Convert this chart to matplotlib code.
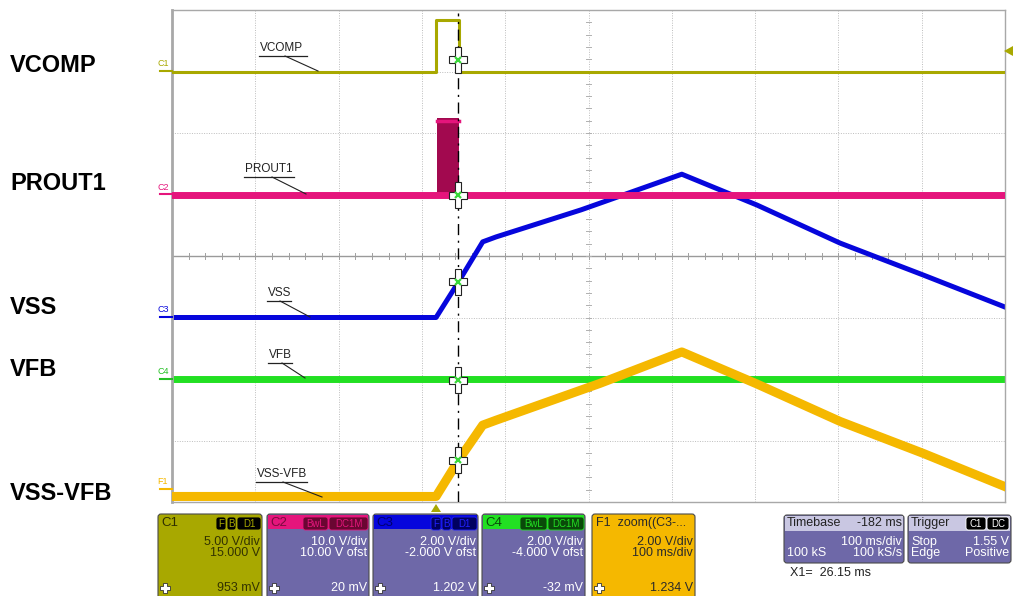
import matplotlib
matplotlib.use('Agg')
import matplotlib.pyplot as plt
from matplotlib.patches import Polygon, FancyBboxPatch, Rectangle

plt.rcParams['font.family'] = ['Liberation Sans', 'DejaVu Sans']

# time in ms (trigger at 0, 100 ms/div), y in screen divisions (0..8)
t_left, t_right = -317, 683
cursor_t = 26.15

vcomp_t = [-317, 0, 0, 27, 27, 683]
vcomp_y = [7.0, 7.0, 7.83, 7.83, 7.0, 7.0]

prout_t = [-317, 683]
prout_y = [5.0, 5.0]
burst_t = [1, 27]
burst_top = 6.24

vss_t = [-317, 0, 27, 56, 72, 174, 197, 295, 385, 485, 585, 683]
vss_y = [3.0, 3.0, 3.58, 4.23, 4.31, 4.75, 4.86, 5.33, 4.83, 4.21, 3.69, 3.17]

vfb_t = [-317, 683]
vfb_y = [2.0, 2.0]

diff_t = [-317, 0, 27, 56, 72, 174, 197, 295, 385, 485, 585, 683]
diff_y = [0.09, 0.09, 0.68, 1.25, 1.33, 1.82, 1.93, 2.44, 1.92, 1.31, 0.79, 0.25]

cursor_marks = [7.19, 4.99, 3.58, 1.98, 0.68]

c_olive = '#a8a800'
c_pink = '#e5157c'
c_blue = '#0606dc'
c_green = '#22e022'
c_amber = '#f5b800'
c_body = '#6e68a8'

fig = plt.figure(figsize=(10.14, 5.96), dpi=100)
ax = fig.add_axes([172 / 1014, (596 - 502) / 596, 833 / 1014, 492 / 596])
ax.set_xlim(t_left, t_right)
ax.set_ylim(0, 8)
ax.set_xticks([])
ax.set_yticks([])
for s in ax.spines.values():
    s.set_color('#a8a8a8')
    s.set_linewidth(1.0)
ax.spines['left'].set_linewidth(2.0)

# grid
for k in range(1, 10):
    ax.axvline(t_left + k * 100, color='#bdbdbd', lw=0.7, ls=(0, (1, 1.5)), zorder=0)
for k in range(1, 8):
    if k == 4:
        ax.axhline(k, color='#9a9a9a', lw=1.0, zorder=0)
    else:
        ax.axhline(k, color='#bdbdbd', lw=0.7, ls=(0, (1, 1.5)), zorder=0)
for k in range(50):
    x = t_left + k * 20
    ax.plot([x, x], [3.95, 4.05], color='#a0a0a0', lw=0.7, zorder=0)
for k in range(40):
    y = k * 0.2
    ax.plot([t_left + 497, t_left + 503], [y, y], color='#b0b0b0', lw=0.7, zorder=0)

# traces
ax.plot(vss_t, vss_y, color=c_blue, lw=3.6, zorder=2, solid_joinstyle='round')
ax.fill_between(burst_t, prout_y[0], burst_top, color='#a2094f', lw=0, zorder=3)
ax.plot(burst_t, [burst_top - 0.04] * 2, color=c_pink, lw=2.5, zorder=3)
ax.plot(prout_t, prout_y, color=c_pink, lw=5, zorder=3)
ax.plot(vfb_t, vfb_y, color=c_green, lw=5, zorder=2)
ax.plot(diff_t, diff_y, color=c_amber, lw=6.5, zorder=4, solid_joinstyle='round')
ax.plot(vcomp_t, vcomp_y, color=c_olive, lw=2.2, zorder=5)

# cursor
ax.plot([cursor_t, cursor_t], [0, 7.95], color='black', lw=1.0, ls=(0, (8, 4, 1.5, 4)), zorder=6)
dx_v, dy_v = 3.2, 0.21
dx_h, dy_h = 10.8, 0.057
for y in cursor_marks:
    c = cursor_t
    pts = [(c - dx_v, y + dy_v), (c + dx_v, y + dy_v), (c + dx_v, y + dy_h), (c + dx_h, y + dy_h),
           (c + dx_h, y - dy_h), (c + dx_v, y - dy_h), (c + dx_v, y - dy_v), (c - dx_v, y - dy_v),
           (c - dx_v, y - dy_h), (c - dx_h, y - dy_h), (c - dx_h, y + dy_h), (c - dx_v, y + dy_h)]
    ax.add_patch(Polygon(pts, closed=True, fc='white', ec='#222222', lw=0.8, zorder=7))
    ax.plot(c, y, marker='x', ms=5, mew=1.6, color='#3ad83a', zorder=8)

# overlay in pixel coordinates
ov = fig.add_axes([0, 0, 1, 1])
ov.set_xlim(0, 1014)
ov.set_ylim(596, 0)
ov.axis('off')

big = [('VCOMP', 65), ('PROUT1', 183), ('VSS', 307), ('VFB', 370), ('VSS-VFB', 494)]
for txt, y in big:
    ov.text(10, y, txt, fontsize=17, fontweight='bold', va='center', ha='left', color='black')

# channel markers at left edge
marks = [('C1', 71, c_olive), ('C2', 194, c_pink), ('C3', 317, c_blue), ('C4', 379, '#22c022'), ('F1', 489, c_amber)]
for txt, y, col in marks:
    ov.text(157, y - 7, txt, fontsize=6.5, color=col, va='center', ha='left')
    ov.plot([160, 172], [y, y], color=col, lw=1.5)

# trace labels with leader lines
labels = [('VCOMP', 260, 48, 285, (318, 71)),
          ('PROUT1', 245, 169, 272, (306, 194)),
          ('VSS', 268, 293, 280, (310, 317)),
          ('VFB', 269, 355, 282, (305, 378)),
          ('VSS-VFB', 257, 474, 283, (322, 497))]
widths = {'VCOMP': 47, 'PROUT1': 49, 'VSS': 23, 'VFB': 23, 'VSS-VFB': 50}
for txt, x, y, lx, end in labels:
    ov.text(x, y, txt, fontsize=8.5, color='#222222', va='center', ha='left')
    ov.plot([x - 1, x + widths[txt]], [y + 8, y + 8], color='#222222', lw=0.9)
    ov.plot([lx, end[0]], [y + 8, end[1]], color='#222222', lw=0.8)

# trigger markers
ov.add_patch(Polygon([(1004, 51), (1013, 46), (1013, 56)], closed=True, fc=c_olive, ec='none'))
ov.add_patch(Polygon([(431, 512), (436, 504), (441, 512)], closed=True, fc=c_olive, ec='none'))


def panel(x0, x1, y0, y1, body, head=None, head_h=14):
    ov.add_patch(FancyBboxPatch((x0, y0), x1 - x0, y1 - y0,
                                boxstyle='round,pad=0,rounding_size=3',
                                fc=body, ec='#4a4a4a', lw=0.8))
    if head is not None:
        ov.add_patch(Rectangle((x0 + 1, y0 + 1), x1 - x0 - 2, head_h, fc=head, ec='none'))


def badge(x0, x1, txt, fc, tc, y0=517, y1=530):
    ov.add_patch(FancyBboxPatch((x0, y0), x1 - x0, y1 - y0,
                                boxstyle='round,pad=0,rounding_size=2.5',
                                fc=fc, ec=tc, lw=0.6))
    ov.text((x0 + x1) / 2, (y0 + y1) / 2 + 0.5, txt, fontsize=7, color=tc,
            ha='center', va='center')


def icon(x, y):
    ov.plot(x, y, marker='P', ms=7, mfc='white', mec='#333333', mew=0.6)


chan = [
    ('C1', 158, 262, c_olive, None, '#2e2e00', '#333300',
     ['5.00 V/div', '15.000 V'], '953 mV', [('F', 216, 226), ('B', 227, 236), ('D1', 237, 261)], 'black', c_olive),
    ('C2', 267, 369, c_body, c_pink, '#7a0a3e', 'white',
     ['10.0 V/div', '10.00 V ofst'], '20 mV', [('BwL', 303, 328), ('DC1M', 329, 368)], '#6a0632', c_pink),
    ('C3', 373, 478, c_body, c_blue, '#00006a', 'white',
     ['2.00 V/div', '-2.000 V ofst'], '1.202 V', [('F', 431, 441), ('B', 442, 451), ('D1', 452, 477)], '#000060', '#2020ff'),
    ('C4', 482, 585, c_body, c_green, '#0a4a0a', 'white',
     ['2.00 V/div', '-4.000 V ofst'], '-32 mV', [('BwL', 520, 547), ('DC1M', 548, 584)], '#0a4a0a', c_green),
]
for name, x0, x1, body, head, ncol, tcol, rows, val, badges, bfc, btc in chan:
    panel(x0, x1, 514, 600, body, head)
    ov.text(x0 + 3, 523, name, fontsize=9.5, color=ncol, va='center', ha='left')
    for b, bx0, bx1 in badges:
        badge(bx0, bx1, b, bfc, btc)
    ov.text(x1 - 2, 542, rows[0], fontsize=9, color=tcol, ha='right', va='center')
    ov.text(x1 - 2, 553, rows[1], fontsize=9, color=tcol, ha='right', va='center')
    ov.text(x1 - 2, 588, val, fontsize=9, color=tcol, ha='right', va='center')
    icon(x0 + 7, 588)

# math panel
panel(592, 695, 514, 600, c_amber)
ov.text(596, 523, 'F1  zoom((C3-...', fontsize=9, color='#2a2a2a', va='center', ha='left')
ov.text(693, 542, '2.00 V/div', fontsize=9, color='#2a2a2a', ha='right', va='center')
ov.text(693, 553, '100 ms/div', fontsize=9, color='#2a2a2a', ha='right', va='center')
ov.text(693, 588, '1.234 V', fontsize=9, color='#2a2a2a', ha='right', va='center')
icon(599, 588)

# timebase / trigger
panel(784, 904, 515, 563, c_body, '#c9c7e2', head_h=15)
ov.text(787, 523, 'Timebase', fontsize=9, color='#222222', va='center', ha='left')
ov.text(902, 523, '-182 ms', fontsize=9, color='#222222', va='center', ha='right')
ov.text(902, 542, '100 ms/div', fontsize=9, color='white', va='center', ha='right')
ov.text(787, 553, '100 kS', fontsize=9, color='white', va='center', ha='left')
ov.text(902, 553, '100 kS/s', fontsize=9, color='white', va='center', ha='right')

panel(908, 1011, 515, 563, c_body, '#c9c7e2', head_h=15)
ov.text(911, 523, 'Trigger', fontsize=9, color='#222222', va='center', ha='left')
badge(966, 986, 'C1', 'black', 'white')
badge(987, 1009, 'DC', 'black', 'white')
ov.text(911, 542, 'Stop', fontsize=9, color='white', va='center', ha='left')
ov.text(1009, 542, '1.55 V', fontsize=9, color='white', va='center', ha='right')
ov.text(911, 553, 'Edge', fontsize=9, color='white', va='center', ha='left')
ov.text(1009, 553, 'Positive', fontsize=9, color='white', va='center', ha='right')

ov.text(790, 573, 'X1=  26.15 ms', fontsize=9, color='#222222', va='center', ha='left')

fig.savefig('out.png', dpi=100)
